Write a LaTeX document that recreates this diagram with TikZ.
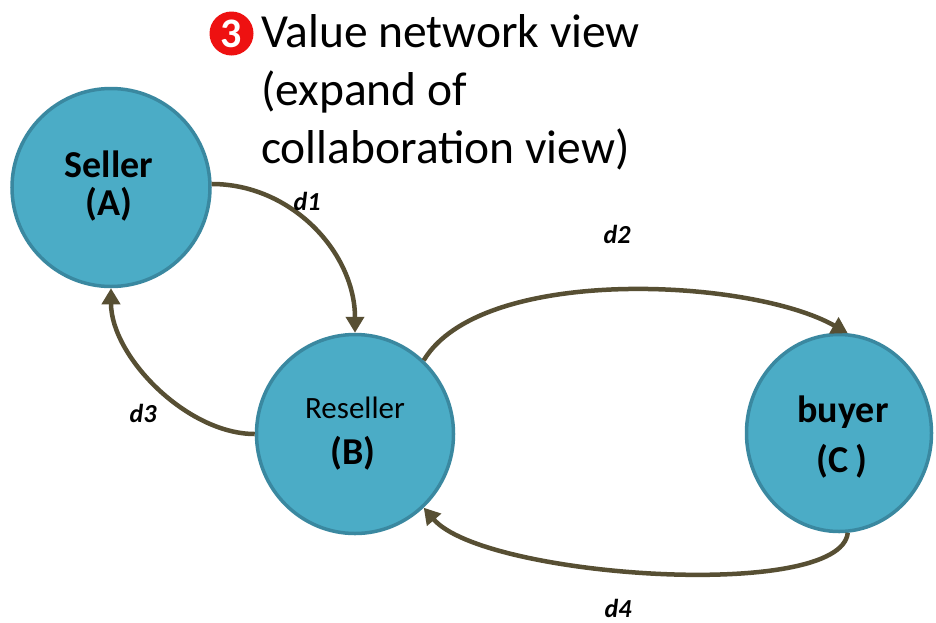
\documentclass[tikz,border=0pt]{standalone}
\usepackage{fontspec}
\setmainfont{Carlito}
\usetikzlibrary{arrows.meta,shapes.geometric}
\definecolor{nodefill}{HTML}{4BACC6}
\definecolor{nodeline}{HTML}{3A88A0}
\definecolor{arrowc}{HTML}{574F33}
\definecolor{badgered}{HTML}{EE1111}
\begin{document}
\begin{tikzpicture}[x=1pt,y=-1pt,
  party/.style={ellipse, draw=nodeline, line width=3.5pt, fill=nodefill, inner sep=0pt},
  flow/.style={draw=arrowc, line width=4.5pt, -{Triangle[length=16pt,width=18pt]}},
  flowlabel/.style={font=\fontsize{26}{30}\selectfont\bfseries\itshape, anchor=base, inner sep=0pt},
  bigname/.style={font=\fontsize{38}{40}\selectfont\bfseries, anchor=base, inner sep=0pt, text=black},
  smallname/.style={font=\fontsize{31}{34}\selectfont, anchor=base, inner sep=0pt, text=black},
  titletext/.style={font=\fontsize{47.5}{58}\selectfont, anchor=base west, inner sep=0pt, text=black},
  badge/.style={circle, fill=badgered, minimum size=44pt, inner sep=0pt, text=white, font=\fontsize{42}{42}\selectfont\bfseries}]
\useasboundingbox[fill=white] (0,0) rectangle (936,622);

% title
\node[badge] (bd) at (231.5,33.5) {3};
\node[titletext] (t1) at (261,47) {Value network view};
\node[titletext] (t2) at (261,105) {(expand of};
\node[titletext] (t3) at (261,163) {collaboration view)};

% parties
\node[party, minimum width=198pt, minimum height=198pt] (A) at (111,187.5) {};
\node[party, minimum width=197pt, minimum height=199pt] (B) at (355,434) {};
\node[party, minimum width=185pt, minimum height=197pt] (C) at (839,433) {};

\node[bigname] (A1) at (109,177) {Seller};
\node[bigname] (A2) at (109,215) {(A)};
\node[smallname] (B1) at (355,418) {Reseller};
\node[bigname] (B2) at (353,464) {(B)};
\node[bigname] (C1) at (843,422) {buyer};
\node[bigname] (C2) at (842,472) {(C\,)};

% flows
\draw[flow] (A.2) .. controls +(80,0) and +(0,-80) .. (B.90);
\draw[flow] (B.47) .. controls +(58,-96) and +(-97,-55) .. (C.85);
\draw[flow] (B.180) .. controls +(-68,0) and +(0,68) .. (A.270);
\draw[flow] (C.-85) .. controls +(-7,69) and +(60,70) .. (B.-47);

% labels
\node[flowlabel] (l1) at (307,210) {d1};
\node[flowlabel] (l2) at (617,243) {d2};
\node[flowlabel] (l3) at (143,422) {d3};
\node[flowlabel] (l4) at (618,617) {d4};
\end{tikzpicture}
\end{document}
